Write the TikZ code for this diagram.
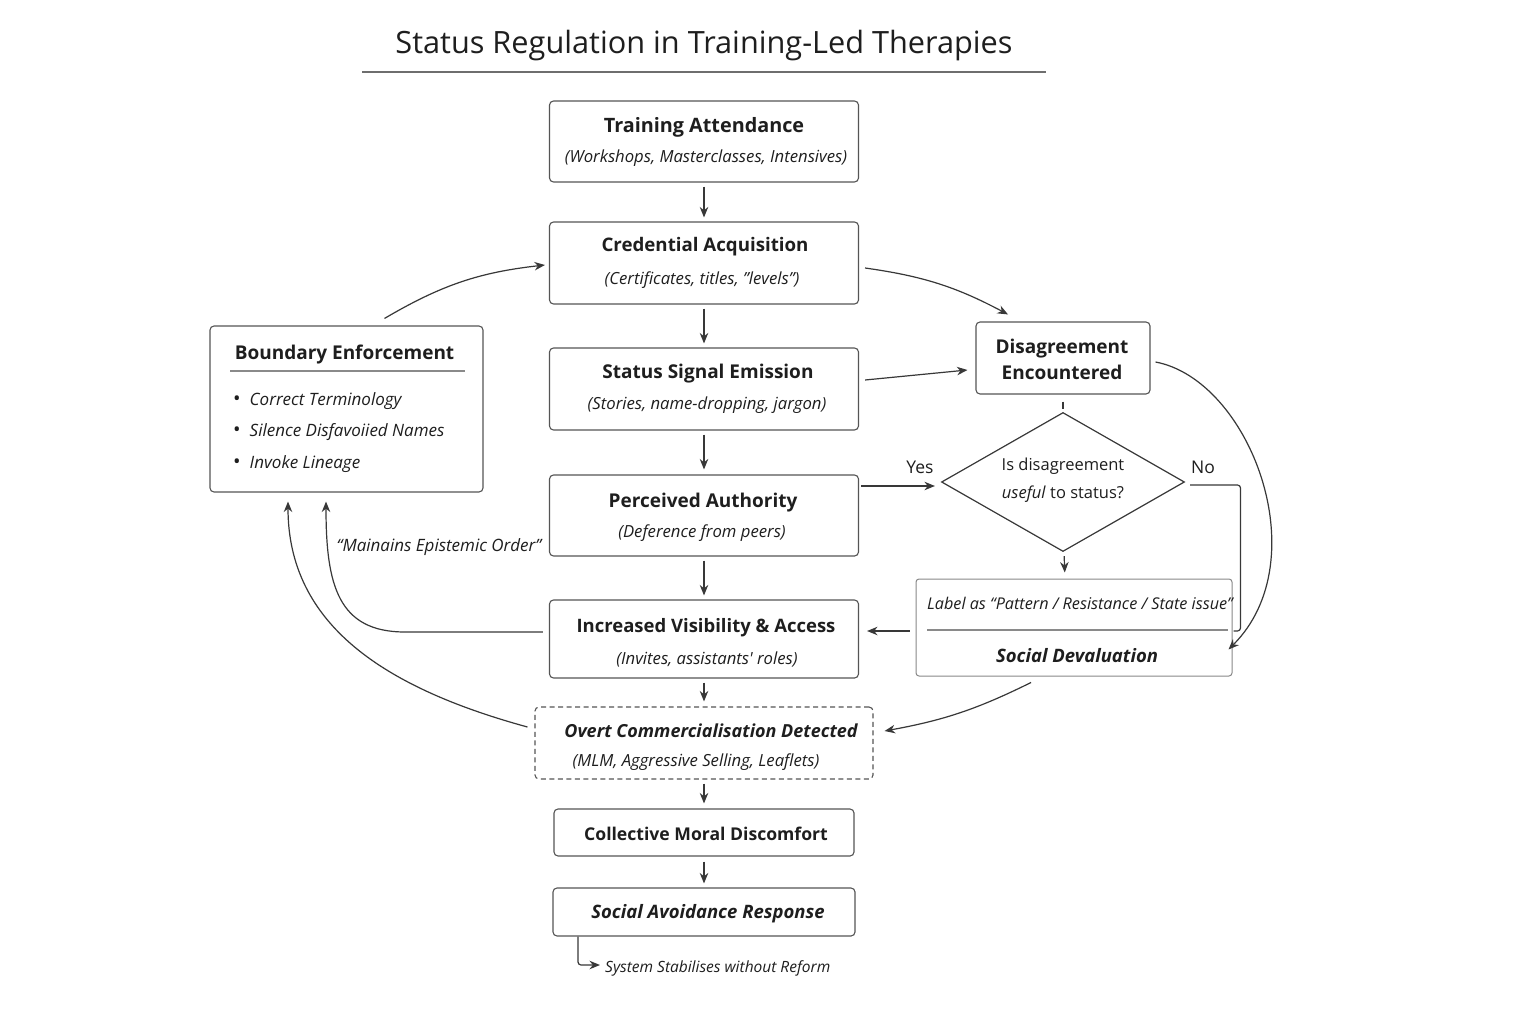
\documentclass[tikz,border=0pt]{standalone}
\usepackage{fontspec}
\setmainfont{Open Sans}
\usetikzlibrary{arrows.meta,shapes.geometric,calc}
\definecolor{linec}{HTML}{383838}
\definecolor{boxc}{HTML}{555555}
\definecolor{txtc}{HTML}{1E1E1E}
\definecolor{sepc}{HTML}{8A8A8A}
\tikzset{
  box/.style={draw=boxc, line width=1.1pt, rounded corners=4pt, inner sep=0pt, fill=white},
  ttl/.style={font=\fontsize{19}{23}\selectfont\bfseries, text=txtc, inner sep=0pt, text height=0.75em, text depth=0.25em, yshift=-4.5pt},
  sub/.style={font=\fontsize{16.7}{20}\selectfont\itshape, text=txtc, inner sep=0pt, text height=0.75em, text depth=0.25em, yshift=-4.5pt},
  lbl/.style={font=\fontsize{16.5}{20}\selectfont, text=txtc, inner sep=0pt, text height=0.75em, text depth=0.25em, yshift=-4.5pt},
  arr/.style={draw=linec, line width=1.2pt, -{Stealth[length=10.5pt,width=8.5pt]}},
  ln/.style={draw=linec, line width=1.2pt},
}
\newcommand{\bul}{{\upshape\fontsize{20}{20}\selectfont\textbullet}\hspace{9pt}}
\begin{document}
\begin{tikzpicture}[x=1pt,y=1pt]
\useasboundingbox[fill=white] (0,0) rectangle (1536,-1024);

% title
\node[font=\fontsize{30.7}{36}\selectfont, text=txtc, inner sep=0pt, text height=0.75em, text depth=0.25em, yshift=-5pt] (title) at (704,-46) {Status Regulation in Training-Led Therapies};
\coordinate (tl) at (362,-72);
\coordinate (tr) at (1046,-72);
\draw[draw=sepc!80!black, line width=1.2pt] (tl) -- (tr);

% main column
\node[box, minimum width=309pt, minimum height=81pt] (ta) at (704,-141.5) {};
\node[ttl, font=\fontsize{19.8}{24}\selectfont\bfseries] (taT) at (704,-126) {Training Attendance};
\node[sub] (taS) at (706,-156) {(Workshops, Masterclasses, Intensives)};

\node[box, minimum width=309pt, minimum height=82pt] (ca) at (704,-263) {};
\node[ttl, font=\fontsize{18.7}{23}\selectfont\bfseries] (caT) at (705,-245) {Credential Acquisition};
\node[sub] (caS) at (702,-277) {(Certificates, titles, "levels")};

\node[box, minimum width=309pt, minimum height=82pt] (ss) at (704,-389) {};
\node[ttl] (ssT) at (708,-371) {Status Signal Emission};
\node[sub] (ssS) at (707,-402) {(Stories, name-dropping, jargon)};

\node[box, minimum width=309pt, minimum height=81pt] (pa) at (704,-515.5) {};
\node[ttl] (paT) at (703,-500) {Perceived Authority};
\node[sub] (paS) at (702,-530) {(Deference from peers)};

\node[box, minimum width=309pt, minimum height=78pt] (iv) at (704,-639) {};
\node[ttl, font=\fontsize{18.5}{23}\selectfont\bfseries] (ivT) at (706,-625) {Increased Visibility \& Access};
\node[sub] (ivS) at (707,-657) {(Invites, assistants\textquotesingle{} roles)};

\node[box, dashed, dash pattern=on 5pt off 3.5pt, minimum width=338pt, minimum height=72pt] (oc) at (704,-743) {};
\node[ttl, font=\fontsize{18}{22}\selectfont\bfseries\itshape] (ocT) at (711,-730) {Overt Commercialisation Detected};
\node[sub] (ocS) at (696,-759) {(MLM, Aggressive Selling, Leaflets)};

\node[box, minimum width=300pt, minimum height=47pt] (cm) at (704,-832.5) {};
\node[ttl, font=\fontsize{17.6}{22}\selectfont\bfseries] (cmT) at (706,-833) {Collective Moral Discomfort};

\node[box, minimum width=302pt, minimum height=48pt] (sa) at (704,-912) {};
\node[ttl, font=\fontsize{18.5}{22}\selectfont\bfseries\itshape] (saT) at (708,-911) {Social Avoidance Response};

\node[sub, font=\fontsize{15.5}{19}\selectfont\itshape, anchor=west] (sys) at (605,-965) {System Stabilises without Reform};

% boundary enforcement
\node[box, minimum width=273pt, minimum height=166pt] (be) at (346.5,-409) {};
\node[ttl, font=\fontsize{19}{23}\selectfont\bfseries] (beT) at (344.5,-352) {Boundary Enforcement};
\coordinate (bel) at (230,-371);
\coordinate (ber) at (465,-371);
\draw[draw=sepc, line width=1.1pt] (bel) -- (ber);
\node[sub, font=\fontsize{17}{20}\selectfont\itshape, anchor=west] (b1) at (233,-398) {\bul Correct Terminology};
\node[sub, font=\fontsize{17}{20}\selectfont\itshape, anchor=west] (b2) at (233,-429) {\bul Silence Disfavoiied Names};
\node[sub, font=\fontsize{17}{20}\selectfont\itshape, anchor=west] (b3) at (233,-461) {\bul Invoke Lineage};

% disagreement
\node[box, minimum width=174pt, minimum height=72pt] (de) at (1063,-358) {};
\node[align=center, font=\fontsize{19}{26}\selectfont\bfseries, text=txtc, inner sep=0pt] (deT) at (1062,-359) {Disagreement\\Encountered};

% diamond
\node[draw=linec, line width=1.2pt, diamond, aspect=1.75, minimum width=243pt, minimum height=139pt, inner sep=0pt] (di) at (1063,-482) {};
\node[lbl] (di1) at (1063,-463) {Is disagreement};
\node[lbl] (di2) at (1063,-491) {\textit{useful} to status?};
\node[lbl, font=\fontsize{17.5}{20}\selectfont] (yes) at (920,-466) {Yes};
\node[lbl, font=\fontsize{17.5}{20}\selectfont] (no) at (1203,-466) {No};

% label / social devaluation
\node[box, draw=boxc!70, line width=1pt, rounded corners=3pt, minimum width=316pt, minimum height=97pt] (sd) at (1074,-627.5) {};
\node[sub, font=\fontsize{16.2}{20}\selectfont\itshape] (sdL) at (1080,-602) {Label as “Pattern / Resistance / State issue”};
\coordinate (sdl) at (927,-630);
\coordinate (sdr) at (1228,-630);
\draw[draw=sepc, line width=1.1pt] (sdl) -- (sdr);
\node[ttl, font=\fontsize{18.5}{22}\selectfont\bfseries\itshape] (sdT) at (1077,-655) {Social Devaluation};

\node[sub, font=\fontsize{17}{20}\selectfont\itshape] (mo) at (439,-544) {“Mainains Epistemic Order”};

% vertical arrows
\draw[arr, shorten <=4pt, shorten >=4pt] (ta) -- (ca);
\draw[arr, shorten <=4pt, shorten >=4pt] (ca) -- (ss);
\draw[arr, shorten <=4pt, shorten >=5pt] (ss) -- (pa);
\draw[arr, shorten <=4pt, shorten >=4pt] (pa) -- (iv);
\draw[arr, shorten <=4pt, shorten >=5pt] (iv) -- (oc);
\draw[arr, shorten <=4pt, shorten >=5pt] (oc) -- (cm);
\draw[arr, shorten <=5pt, shorten >=4pt] (cm) -- (sa);

% other connectors
\coordinate (sysin) at (600,-965);
\draw[arr, rounded corners=3pt] ([xshift=-126pt]sa.south) -- ([xshift=-126pt]sa.south |- sysin) -- (sysin);

\draw[arr] ([xshift=38pt,yshift=7pt]be.north) to[bend left=12] ([xshift=-4pt,yshift=-2pt]ca.west);
\draw[arr] ([xshift=6pt,yshift=-5pt]ca.east) to[bend left=10] ([xshift=-55pt,yshift=7pt]de.north);
\draw[arr] ([xshift=6pt,yshift=9pt]ss.east) -- ([xshift=-8pt,yshift=-12pt]de.west);
\draw[arr] ([xshift=2pt,yshift=29.5pt]pa.east) -- ([xshift=-6pt,yshift=-4pt]di.west);
\draw[ln, shorten <=7pt, shorten >=3pt] (de.south) -- (di.north);
\draw[arr, shorten <=4pt, shorten >=6pt] ([xshift=1pt]di.south) -- ([xshift=-9pt]sd.north);
\draw[ln, rounded corners=3pt] ([xshift=5pt,yshift=-3pt]di.east) -| ([xshift=8pt,yshift=-3.5pt]sd.east) -- ([xshift=1pt,yshift=-3.5pt]sd.east);
\draw[arr] ([xshift=5pt,yshift=-4pt]de.east) .. controls (1250,-380) and (1318,-560) .. ([xshift=-4pt,yshift=-22pt]sd.east);
\draw[arr] ([xshift=-6pt,yshift=-3.5pt]sd.west) -- ([xshift=8pt,yshift=8pt]iv.east);
\draw[arr] ([xshift=-43pt,yshift=-6pt]sd.south) to[bend left=8] ([xshift=11pt,yshift=12pt]oc.east);
\draw[arr] ([xshift=-6pt,yshift=7pt]iv.west) -- (405,-632) .. controls (338,-632) and (326,-585) .. ([xshift=-20.5pt,yshift=-9pt]be.south);
\draw[arr] ([xshift=-7pt,yshift=16pt]oc.west) .. controls (385,-688) and (288,-625) .. ([xshift=-58.5pt,yshift=-9pt]be.south);

\end{tikzpicture}
\end{document}
